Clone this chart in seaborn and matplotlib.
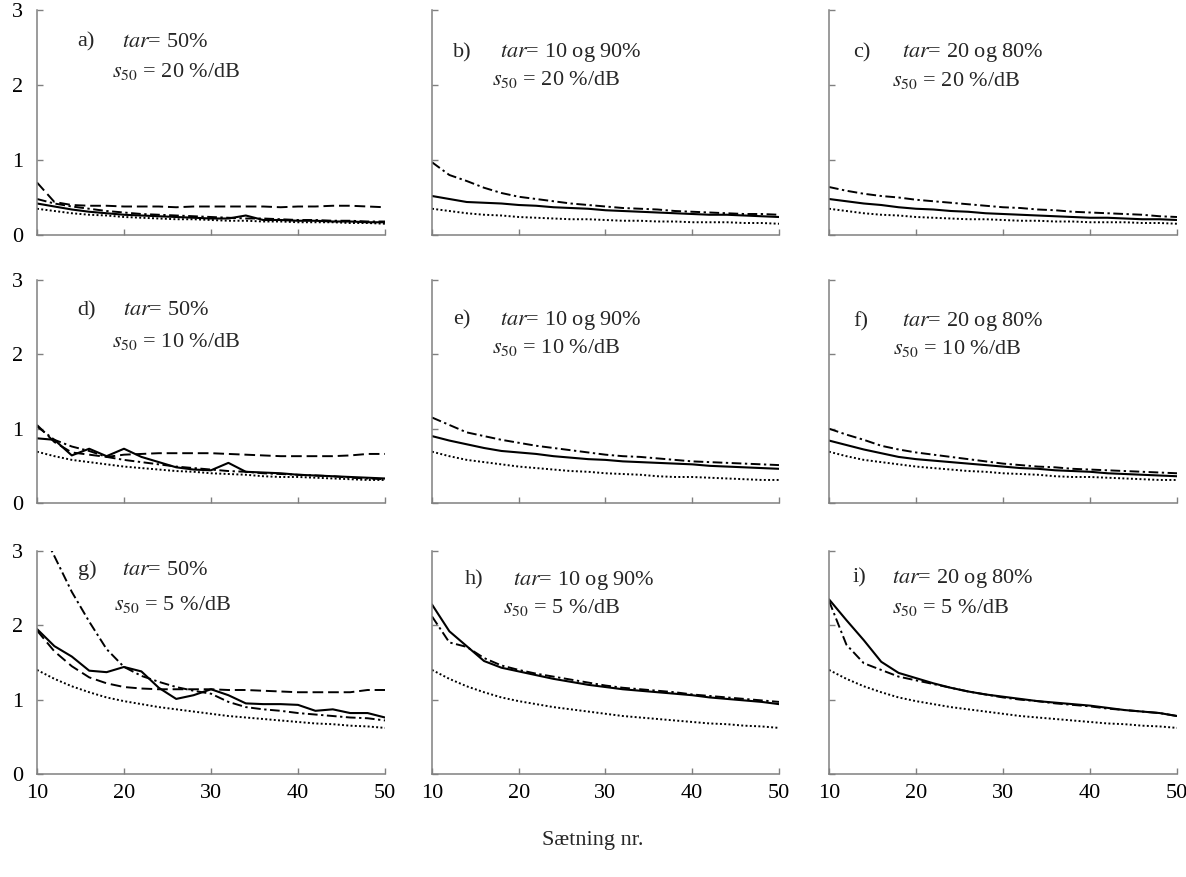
import numpy as np
import pandas as pd
import matplotlib
matplotlib.use("Agg")
import matplotlib.pyplot as plt
import seaborn as sns

# ---------------- data ----------------
sentence_nr = [10, 12, 14, 16, 18, 20, 22, 24, 26, 28, 30, 32, 34, 36, 38, 40, 42, 44, 46, 48, 50]

# dotted reference curves (one per slope row)
dotted_s20 = [0.35, 0.32, 0.29, 0.27, 0.26, 0.24, 0.23, 0.22, 0.21, 0.21, 0.20, 0.19, 0.19, 0.18, 0.18, 0.17, 0.17, 0.17, 0.16, 0.16, 0.15]
dotted_s10 = [0.69, 0.63, 0.58, 0.55, 0.52, 0.49, 0.47, 0.45, 0.43, 0.42, 0.40, 0.39, 0.38, 0.36, 0.35, 0.35, 0.34, 0.33, 0.32, 0.31, 0.31]
dotted_s5 = [1.40, 1.28, 1.18, 1.10, 1.03, 0.98, 0.94, 0.90, 0.87, 0.84, 0.81, 0.78, 0.76, 0.74, 0.72, 0.70, 0.68, 0.67, 0.65, 0.64, 0.62]

# a) tar=50%, s50=20
a_solid = [0.42, 0.38, 0.34, 0.31, 0.29, 0.27, 0.26, 0.25, 0.24, 0.23, 0.22, 0.22, 0.26, 0.20, 0.20, 0.19, 0.19, 0.18, 0.18, 0.17, 0.17]
a_dashed = [0.70, 0.44, 0.40, 0.39, 0.39, 0.38, 0.38, 0.38, 0.37, 0.38, 0.38, 0.38, 0.38, 0.38, 0.37, 0.38, 0.38, 0.39, 0.39, 0.38, 0.37]
a_dashdot = [0.48, 0.42, 0.38, 0.35, 0.32, 0.30, 0.28, 0.27, 0.26, 0.25, 0.24, 0.23, 0.22, 0.22, 0.21, 0.20, 0.20, 0.19, 0.19, 0.18, 0.18]
# b) tar=10 og 90%, s50=20
b_solid = [0.52, 0.48, 0.44, 0.43, 0.42, 0.40, 0.39, 0.37, 0.36, 0.35, 0.33, 0.32, 0.31, 0.30, 0.29, 0.28, 0.27, 0.27, 0.26, 0.25, 0.24]
b_dashdot = [0.97, 0.80, 0.72, 0.63, 0.56, 0.51, 0.48, 0.45, 0.42, 0.40, 0.38, 0.36, 0.35, 0.34, 0.32, 0.31, 0.30, 0.29, 0.28, 0.28, 0.27]
# c) tar=20 og 80%, s50=20
c_solid = [0.48, 0.45, 0.42, 0.40, 0.37, 0.35, 0.34, 0.32, 0.31, 0.29, 0.28, 0.27, 0.26, 0.25, 0.24, 0.23, 0.23, 0.22, 0.21, 0.21, 0.20]
c_dashdot = [0.64, 0.59, 0.55, 0.52, 0.50, 0.47, 0.45, 0.43, 0.41, 0.39, 0.37, 0.36, 0.34, 0.33, 0.31, 0.30, 0.29, 0.28, 0.27, 0.25, 0.24]
# d) tar=50%, s50=10
d_solid = [0.87, 0.85, 0.64, 0.73, 0.63, 0.73, 0.62, 0.55, 0.48, 0.45, 0.44, 0.54, 0.42, 0.41, 0.40, 0.38, 0.37, 0.36, 0.35, 0.34, 0.33]
d_dashed = [1.05, 0.82, 0.68, 0.65, 0.62, 0.65, 0.66, 0.67, 0.67, 0.67, 0.67, 0.66, 0.65, 0.64, 0.63, 0.63, 0.63, 0.63, 0.64, 0.66, 0.66]
d_dashdot = [1.03, 0.85, 0.76, 0.70, 0.62, 0.58, 0.55, 0.52, 0.49, 0.47, 0.45, 0.43, 0.42, 0.40, 0.39, 0.38, 0.37, 0.36, 0.34, 0.33, 0.32]
# e) tar=10 og 90%, s50=10
e_solid = [0.90, 0.84, 0.79, 0.74, 0.70, 0.68, 0.66, 0.63, 0.61, 0.59, 0.58, 0.56, 0.55, 0.54, 0.53, 0.52, 0.50, 0.49, 0.48, 0.47, 0.46]
e_dashdot = [1.15, 1.05, 0.95, 0.90, 0.85, 0.81, 0.77, 0.74, 0.71, 0.68, 0.65, 0.63, 0.62, 0.60, 0.58, 0.56, 0.55, 0.54, 0.53, 0.52, 0.51]
# f) tar=20 og 80%, s50=10
f_solid = [0.84, 0.78, 0.72, 0.67, 0.62, 0.59, 0.57, 0.55, 0.53, 0.51, 0.49, 0.47, 0.46, 0.44, 0.43, 0.42, 0.40, 0.39, 0.38, 0.37, 0.36]
f_dashdot = [1.00, 0.92, 0.85, 0.77, 0.72, 0.68, 0.65, 0.62, 0.59, 0.56, 0.53, 0.51, 0.49, 0.48, 0.46, 0.45, 0.44, 0.43, 0.42, 0.41, 0.40]
# g) tar=50%, s50=5
g_solid = [1.95, 1.72, 1.58, 1.39, 1.37, 1.44, 1.38, 1.16, 1.01, 1.06, 1.14, 1.06, 0.95, 0.94, 0.94, 0.93, 0.85, 0.87, 0.82, 0.82, 0.76]
g_dashed = [1.93, 1.65, 1.45, 1.30, 1.22, 1.17, 1.15, 1.14, 1.14, 1.14, 1.14, 1.13, 1.13, 1.12, 1.11, 1.10, 1.10, 1.10, 1.10, 1.13, 1.13]
g_dashdot = [3.40, 2.93, 2.45, 2.05, 1.68, 1.44, 1.32, 1.24, 1.17, 1.12, 1.08, 0.97, 0.90, 0.87, 0.85, 0.82, 0.80, 0.78, 0.76, 0.75, 0.72]
# h) tar=10 og 90%, s50=5
h_solid = [2.28, 1.92, 1.72, 1.52, 1.43, 1.38, 1.33, 1.28, 1.24, 1.20, 1.17, 1.14, 1.12, 1.10, 1.08, 1.06, 1.03, 1.01, 0.99, 0.97, 0.94]
h_dashdot = [2.12, 1.77, 1.71, 1.56, 1.46, 1.40, 1.35, 1.31, 1.27, 1.23, 1.19, 1.16, 1.14, 1.12, 1.10, 1.07, 1.05, 1.03, 1.01, 0.99, 0.97]
# i) tar=20 og 80%, s50=5
i_solid = [2.35, 2.07, 1.80, 1.51, 1.36, 1.29, 1.22, 1.16, 1.11, 1.07, 1.04, 1.01, 0.98, 0.96, 0.94, 0.92, 0.89, 0.86, 0.84, 0.82, 0.78]
i_dashdot = [2.33, 1.74, 1.49, 1.40, 1.31, 1.26, 1.21, 1.16, 1.11, 1.07, 1.03, 1.00, 0.98, 0.95, 0.93, 0.91, 0.88, 0.86, 0.84, 0.82, 0.78]

panel_letters = ["a)", "b)", "c)", "d)", "e)", "f)", "g)", "h)", "i)"]
tar_labels = ["50%", "10 og 90%", "20 og 80%"] * 3
slope_labels = ["20", "20", "20", "10", "10", "10", "5", "5", "5"]
xticks = [10, 20, 30, 40, 50]
yticks = [0, 1, 2, 3]
x_label = "Sætning nr."

panels = [
    {"solid": a_solid, "dashed": a_dashed, "dashdot": a_dashdot, "dotted": dotted_s20},
    {"solid": b_solid, "dashdot": b_dashdot, "dotted": dotted_s20},
    {"solid": c_solid, "dashdot": c_dashdot, "dotted": dotted_s20},
    {"solid": d_solid, "dashed": d_dashed, "dashdot": d_dashdot, "dotted": dotted_s10},
    {"solid": e_solid, "dashdot": e_dashdot, "dotted": dotted_s10},
    {"solid": f_solid, "dashdot": f_dashdot, "dotted": dotted_s10},
    {"solid": g_solid, "dashed": g_dashed, "dashdot": g_dashdot, "dotted": dotted_s5},
    {"solid": h_solid, "dashdot": h_dashdot, "dotted": dotted_s5},
    {"solid": i_solid, "dashdot": i_dashdot, "dotted": dotted_s5},
]

# ---------------- style ----------------
sns.set_style("ticks")
plt.rcParams["font.family"] = ["Liberation Serif", "DejaVu Serif"]
plt.rcParams["mathtext.fontset"] = "stix"

line_styles = {
    "solid": "-",
    "dashed": (0, (5.5, 2.5)),
    "dashdot": (0, (5, 1.8, 1.2, 1.8)),
    "dotted": (0, (1, 1.2)),
}
line_widths = {"solid": 1.5, "dashed": 1.4, "dashdot": 1.4, "dotted": 1.4}

W, H = 1186, 877
fig = plt.figure(figsize=(W / 100, H / 100), dpi=100)
fig.patch.set_facecolor("white")

col_px = [(37, 385), (432, 779), (829, 1177)]
row_px = [(10, 235), (280, 503), (551, 774)]

# text placement (axes fraction): letter x, tar x, s50 x, line1 y, line2 y
text_pos = [
    (0.115, 0.244, 0.215, 0.836, 0.702),
    (0.060, 0.196, 0.172, 0.790, 0.668),
    (0.069, 0.210, 0.182, 0.790, 0.662),
    (0.115, 0.247, 0.215, 0.843, 0.700),
    (0.060, 0.196, 0.172, 0.800, 0.673),
    (0.069, 0.210, 0.184, 0.793, 0.667),
    (0.118, 0.244, 0.220, 0.893, 0.735),
    (0.095, 0.233, 0.205, 0.848, 0.722),
    (0.069, 0.180, 0.180, 0.857, 0.722),
]

FS = 16
gray = "#808080"

for idx, pdata in enumerate(panels):
    r, c = divmod(idx, 3)
    x0, x1 = col_px[c]
    y0, y1 = row_px[r]
    ax = fig.add_axes([x0 / W, 1 - y1 / H, (x1 - x0) / W, (y1 - y0) / H])
    ax.set_facecolor("white")
    for key in ["dotted", "dashdot", "dashed", "solid"]:
        if key in pdata:
            sns.lineplot(x=sentence_nr, y=pdata[key], ax=ax, color="black",
                         linestyle=line_styles[key], linewidth=line_widths[key],
                         errorbar=None)
    ax.set_xlim(10, 50)
    ax.set_ylim(0, 3)
    ax.set_xticks(xticks)
    ax.set_yticks(yticks)
    for s in ["top", "right"]:
        ax.spines[s].set_visible(False)
    for s in ["left", "bottom"]:
        ax.spines[s].set_color(gray)
        ax.spines[s].set_linewidth(1.1)
    ax.tick_params(direction="in", length=4, width=1, color=gray,
                   labelsize=FS, labelcolor="black")
    ax.tick_params(axis="x", pad=7)
    ax.tick_params(axis="y", pad=10)
    if c != 0:
        ax.set_yticklabels([])
    if r != 2:
        ax.set_xticklabels([])
    ax.set_xlabel("")
    ax.set_ylabel("")

    lx, tx, sx, ly1, ly2 = text_pos[idx]
    ax.text(lx, ly1, panel_letters[idx], transform=ax.transAxes,
            fontsize=FS, ha="left", va="baseline")
    ax.text(tx, ly1, r"$tar$= " + tar_labels[idx], transform=ax.transAxes,
            fontsize=FS, ha="left", va="baseline")
    ax.text(sx, ly2, r"$s_{\mathrm{50}}$ = " + slope_labels[idx] + " %/dB",
            transform=ax.transAxes, fontsize=FS, ha="left", va="baseline")

fig.text(0.5, 1 - 840 / H, x_label, ha="center", va="center", fontsize=FS)

fig.savefig("out.png", dpi=100, facecolor="white")
